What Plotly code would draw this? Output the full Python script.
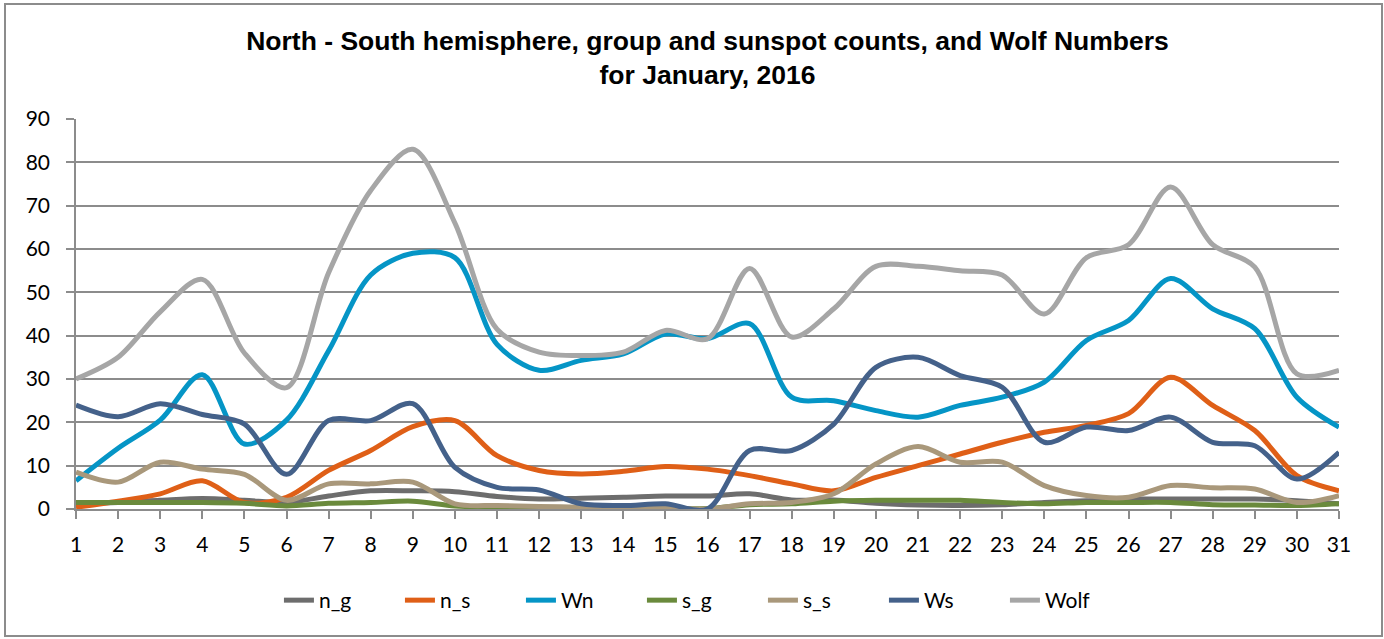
import plotly.graph_objects as go

days = list(range(1, 32))

n_g = [1.3, 1.5, 2.0, 2.4, 2.0, 1.5, 3.0, 4.2, 4.2, 4.0, 2.9, 2.3, 2.5, 2.7, 3.0,
       3.0, 3.5, 2.1, 2.1, 1.3, 0.9, 0.8, 1.0, 1.5, 1.9, 2.3, 2.3, 2.3, 2.3, 1.9, 1.2]
n_s = [0.4, 1.8, 3.5, 6.5, 1.5, 2.7, 8.9, 13.5, 19.0, 20.4, 12.3, 8.9, 8.1, 8.7, 9.8,
       9.2, 7.7, 5.8, 4.2, 7.3, 10.0, 12.7, 15.4, 17.7, 19.3, 22.0, 30.4, 23.9, 18.1, 7.7, 4.2]
Wn = [6.5, 14.0, 20.5, 31.0, 15.0, 20.5, 36.5, 54.0, 59.0, 58.0, 38.0, 32.0, 34.3, 35.8, 40.4,
      39.3, 42.8, 25.8, 25.0, 22.7, 21.2, 23.9, 25.8, 29.3, 38.9, 43.5, 53.2, 46.2, 41.6, 25.8, 18.9]
s_g = [1.5, 1.5, 1.5, 1.5, 1.3, 0.7, 1.3, 1.5, 1.8, 0.7, 0.4, 0.3, 0.2, 0.2, 0.2,
       0.1, 1.0, 1.2, 1.8, 2.0, 2.0, 2.0, 1.5, 1.2, 1.5, 1.5, 1.5, 1.0, 0.9, 0.8, 1.2]
s_s = [8.5, 6.2, 10.8, 9.2, 8.0, 2.0, 5.8, 5.8, 6.2, 1.2, 0.8, 0.6, 0.4, 0.2, 0.4,
       0.0, 1.2, 1.5, 3.5, 10.4, 14.4, 10.8, 10.8, 5.4, 3.1, 2.7, 5.4, 4.9, 4.6, 1.5, 3.1]
Ws = [24.0, 21.3, 24.3, 21.8, 19.6, 8.0, 20.4, 20.4, 24.3, 9.6, 5.0, 4.4, 1.2, 0.8, 1.2,
      0.0, 13.5, 13.5, 19.6, 32.7, 35.0, 30.8, 28.1, 15.4, 18.9, 18.1, 21.2, 15.4, 14.6, 6.9, 13.1]
Wolf = [30.0, 35.0, 45.5, 53.0, 36.0, 28.0, 54.5, 73.5, 83.0, 66.0, 41.5, 36.2, 35.4, 36.2, 41.2,
        39.3, 55.5, 39.7, 46.2, 56.0, 56.0, 55.0, 54.0, 45.0, 58.0, 61.0, 74.3, 61.0, 55.8, 31.2, 32.0]

series = [
    ("n_g", n_g, "#6d6d6d"),
    ("n_s", n_s, "#df5f17"),
    ("Wn", Wn, "#0595c6"),
    ("s_g", s_g, "#6a8a3c"),
    ("s_s", s_s, "#a9987b"),
    ("Ws", Ws, "#44618a"),
    ("Wolf", Wolf, "#a6a6a6"),
]

W, H = 1384, 639
L, R, T, B = 76, 45, 119, 130
PW, PH = W - L - R, H - T - B

fig = go.Figure()
for name, vals, color in series:
    fig.add_trace(go.Scatter(
        x=days, y=vals, name=name, mode="lines",
        line=dict(color=color, width=5, shape="spline", smoothing=0.9),
    ))

fig.update_layout(
    width=W, height=H,
    margin=dict(l=L, r=R, t=T, b=B),
    paper_bgcolor="white", plot_bgcolor="white",
    title=dict(
        text="<b>North - South hemisphere, group and sunspot counts, and Wolf Numbers<br>for January, 2016</b>",
        x=0.5, xref="paper", xanchor="center", y=1 - 50 / H, yanchor="top",
        font=dict(family="Liberation Sans, Arial, sans-serif", size=26.5, color="black"),
    ),
    font=dict(family="Lato, Liberation Sans, sans-serif", size=21, color="black"),
    legend=dict(
        orientation="h", x=0.496, xanchor="center", y=-(593 - 509 - 13) / PH, yanchor="top",
        font=dict(family="Lato, Liberation Sans, sans-serif", size=21, color="black"),
        tracegroupgap=0, entrywidth=76, entrywidthmode="pixels",
    ),
    showlegend=True,
)

fig.update_xaxes(
    range=[1, 31], tickmode="array", tickvals=days, ticktext=[str(d) for d in days],
    showgrid=False, showline=True, linecolor="#8c8c8c", linewidth=1.5,
    ticks="outside", ticklen=8, tickcolor="#8c8c8c", tickwidth=1.5,
    ticklabelstandoff=8, tickfont=dict(size=21), zeroline=False,
)
fig.update_yaxes(
    range=[0, 90], tickmode="array", tickvals=list(range(0, 91, 10)),
    showgrid=True, gridcolor="#8c8c8c", gridwidth=1.5,
    showline=True, linecolor="#8c8c8c", linewidth=1.5,
    ticks="outside", ticklen=8, tickcolor="#8c8c8c", tickwidth=1.5,
    ticklabelstandoff=12, tickfont=dict(size=21), zeroline=False,
)

# outer chart border
fig.add_shape(
    type="rect", xref="paper", yref="paper",
    x0=(5 - L) / PW, x1=(1382 - L) / PW,
    y0=(509 - 636) / PH, y1=(509 - 4) / PH,
    line=dict(color="#8c8c8c", width=2), fillcolor="rgba(0,0,0,0)", layer="below",
)

fig.write_html("out.html", config={"displayModeBar": False},
               post_script="document.body.style.margin='0';document.body.style.padding='0';")
